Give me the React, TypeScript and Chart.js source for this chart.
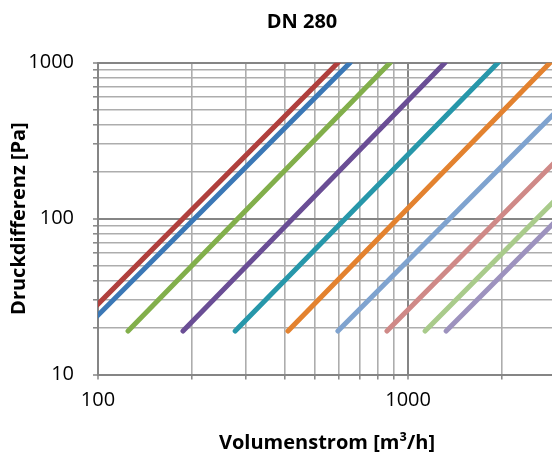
import React, { useEffect, useRef } from 'react';
import { Chart, registerables } from 'chart.js';

Chart.register(...registerables);

const TITLE = 'DN 280';
const X_TITLE = 'Volumenstrom [m³/h]';
const Y_TITLE = 'Druckdifferenz [Pa]';

const SERIES = ['Kurve 1', 'Kurve 2', 'Kurve 3', 'Kurve 4', 'Kurve 5', 'Kurve 6', 'Kurve 7', 'Kurve 8', 'Kurve 9', 'Kurve 10'];
const COLORS = ['#B0403D', '#3B78B6', '#82AF4B', '#6A4E95', '#2797AA', '#E3822F', '#7FA3CF', '#CF8987', '#A9CB8B', '#9D92BE'];

// Volumenstrom [m³/h] and Druckdifferenz [Pa] at the start and end of each curve
const FLOW_START = [82, 89, 125, 188, 277, 410, 594, 855, 1135, 1327];
const DP_START = [19, 19, 19, 19, 19, 19, 19, 19, 19, 19];
const FLOW_END = [594, 650, 875, 1315, 1950, 2870, 3000, 3000, 3000, 3000];
const DP_END = [1000, 1000, 1000, 1000, 1000, 1000, 485, 234, 133, 97];

const X_TICKS = [100, 200, 300, 400, 500, 600, 700, 800, 900, 1000, 2000, 3000];
const Y_TICKS = [10, 20, 30, 40, 50, 60, 70, 80, 90, 100, 200, 300, 400, 500, 600, 700, 800, 900, 1000];
const LABELED = [10, 100, 1000];

const X_MIN = 100;
const X_MAX = 3000;
const Y_MIN = 10;
const Y_MAX = 1000;

const FONT = "'Open Sans', 'DejaVu Sans', sans-serif";
const MAJOR_COLOR = '#858585';
const MINOR_COLOR = '#ADADAD';

export default function App() {
  const ref = useRef<HTMLCanvasElement | null>(null);

  useEffect(() => {
    if (!ref.current) return;
    const isMajor = (ctx: any) => ctx && ctx.tick && LABELED.includes(ctx.tick.value);
    const gridColor = (ctx: any) => (isMajor(ctx) ? MAJOR_COLOR : MINOR_COLOR);
    const gridWidth = (ctx: any) => (isMajor(ctx) ? 2 : 1.6);
    const label = (v: any) => (LABELED.includes(Number(v)) ? String(v) : '');

    const datasets = SERIES.map((name, i) => ({
      label: name,
      data: [
        { x: FLOW_START[i], y: DP_START[i] },
        { x: FLOW_END[i], y: DP_END[i] },
      ],
      borderColor: COLORS[i],
      backgroundColor: COLORS[i],
      borderWidth: 5,
      borderCapStyle: 'round' as const,
      pointRadius: 0,
      fill: false,
      tension: 0,
      clip: 0,
    }));

    const chart = new Chart(ref.current, {
      type: 'line',
      data: { datasets },
      options: {
        responsive: false,
        animation: false,
        devicePixelRatio: 1,
        layout: { padding: 0 },
        plugins: {
          legend: { display: false },
          tooltip: { enabled: false },
          title: {
            display: true,
            text: TITLE,
            color: '#000',
            font: { family: FONT, size: 20, weight: 'bold' },
            padding: { top: 10, bottom: 28.7 },
          },
        },
        scales: {
          x: {
            type: 'logarithmic',
            min: X_MIN,
            max: X_MAX,
            afterBuildTicks: (s: any) => {
              s.ticks = X_TICKS.map((v) => ({ value: v }));
            },
            afterFit: (s: any) => {
              s.height = 83.5;
            },
            ticks: {
              autoSkip: false,
              maxRotation: 0,
              minRotation: 0,
              padding: 9,
              color: '#000',
              font: { family: FONT, size: 20 },
              callback: label,
            },
            grid: {
              color: gridColor,
              lineWidth: gridWidth,
              tickLength: 5,
              tickColor: MAJOR_COLOR,
              tickWidth: 1.5,
            },
            border: { color: MAJOR_COLOR, width: 2 },
            title: {
              display: true,
              text: X_TITLE,
              color: '#000',
              font: { family: FONT, size: 20, weight: 'bold' },
              padding: { top: 0, bottom: 2.6 },
            },
          },
          y: {
            type: 'logarithmic',
            min: Y_MIN,
            max: Y_MAX,
            afterBuildTicks: (s: any) => {
              s.ticks = Y_TICKS.map((v) => ({ value: v }));
            },
            afterFit: (s: any) => {
              s.width = 98;
            },
            ticks: {
              autoSkip: false,
              padding: 19,
              color: '#000',
              font: { family: FONT, size: 20 },
              callback: label,
            },
            grid: {
              color: gridColor,
              lineWidth: gridWidth,
              tickLength: 5,
              tickColor: MAJOR_COLOR,
              tickWidth: 1.5,
            },
            border: { color: MAJOR_COLOR, width: 2 },
            title: {
              display: true,
              text: Y_TITLE,
              color: '#000',
              font: { family: FONT, size: 20, weight: 'bold' },
              padding: { top: 7.6, bottom: 0 },
            },
          },
          yRight: {
            type: 'linear',
            position: 'right',
            display: true,
            min: 0,
            max: 1,
            afterFit: (s: any) => {
              s.width = 48;
            },
            grid: { display: false, drawTicks: false },
            border: { display: false },
            ticks: { display: false },
            title: { display: false },
          },
        },
      },
    });
    return () => chart.destroy();
  }, []);

  return (
    <div style={{ position: 'fixed', left: 0, top: 0, width: 552, height: 458, overflow: 'hidden', background: '#fff' }}>
      <canvas ref={ref} width={604} height={458} style={{ display: 'block', width: 604, height: 458 }} />
    </div>
  );
}
